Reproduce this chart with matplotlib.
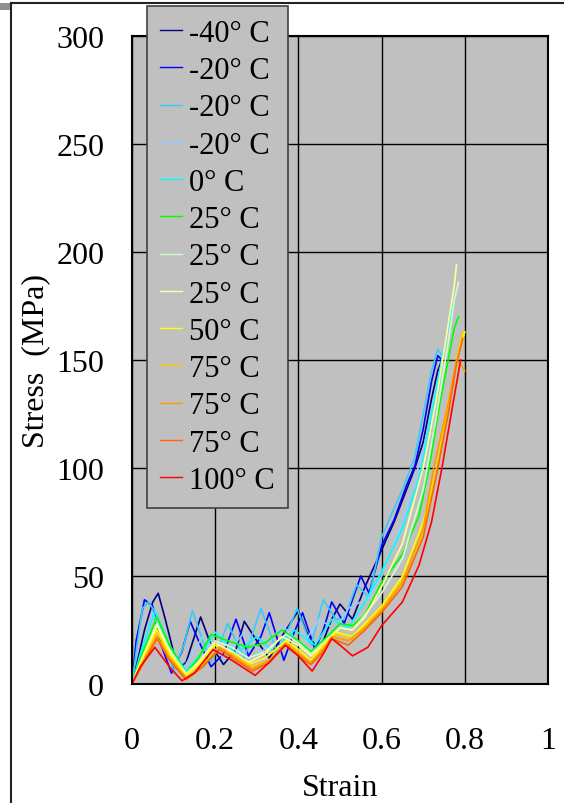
import matplotlib
matplotlib.use("Agg")
import matplotlib.pyplot as plt
from matplotlib.lines import Line2D
from matplotlib.patches import Rectangle

# legend labels, one per test curve
labels = ["-40° C", "-20° C", "-20° C", "-20° C", "0° C", "25° C", "25° C",
          "25° C", "50° C", "75° C", "75° C", "75° C", "100° C"]

# strain / stress pairs (MPa)
strain_m40 = [0, 0.01, 0.03, 0.05, 0.063, 0.08, 0.11, 0.13, 0.165, 0.19, 0.22, 0.25, 0.27, 0.3,
              0.33, 0.36, 0.4, 0.42, 0.45, 0.48, 0.5, 0.53, 0.56, 0.6, 0.63, 0.66, 0.68, 0.7,
              0.72, 0.735, 0.745]
stress_m40 = [0, 8, 25, 38, 42, 30, 7, 10, 31, 18, 9, 16, 29, 20, 12, 22, 34, 24, 15, 30, 37, 30,
              45, 62, 75, 90, 100, 112, 132, 145, 150]

strain_m20a = [0, 0.01, 0.03, 0.05, 0.07, 0.095, 0.12, 0.14, 0.16, 0.19, 0.22, 0.25, 0.28, 0.31,
               0.33, 0.365, 0.39, 0.41, 0.44, 0.46, 0.48, 0.51, 0.55, 0.57, 0.6, 0.63, 0.66,
               0.68, 0.7, 0.72, 0.735, 0.745]
stress_m20a = [0, 20, 39, 36, 18, 5, 15, 29, 20, 8, 14, 30, 13, 22, 33, 11, 24, 33, 16, 25, 38,
               28, 50, 42, 64, 76, 92, 101, 118, 140, 152, 150]

strain_m20b = [0, 0.01, 0.025, 0.04, 0.06, 0.1, 0.125, 0.145, 0.17, 0.19, 0.21, 0.23, 0.27, 0.31,
               0.35, 0.397, 0.43, 0.46, 0.49, 0.51, 0.54, 0.57, 0.6, 0.65, 0.68, 0.7, 0.72,
               0.735, 0.745]
stress_m20b = [0, 15, 35, 38, 32, 6, 18, 34, 20, 10, 18, 28, 12, 35, 14, 35, 18, 39, 30, 30, 46,
               40, 68, 90, 105, 125, 145, 155, 152]

strain_m20c = [0, 0.02, 0.05, 0.08, 0.12, 0.17, 0.22, 0.27, 0.31, 0.36, 0.41, 0.45, 0.49, 0.52,
               0.57, 0.6, 0.65, 0.7, 0.73, 0.755]
stress_m20c = [0, 12, 33, 20, 6, 22, 12, 24, 14, 27, 18, 30, 25, 35, 40, 50, 75, 108, 135, 160]

strain_0 = [0, 0.02, 0.055, 0.09, 0.13, 0.17, 0.2, 0.25, 0.3, 0.34, 0.39, 0.44, 0.48, 0.52, 0.56,
            0.6, 0.65, 0.69, 0.73, 0.755, 0.775]
stress_0 = [0, 14, 34, 18, 6, 15, 24, 14, 22, 15, 25, 18, 30, 26, 38, 52, 72, 95, 135, 160, 178]

strain_25a = [0, 0.02, 0.06, 0.09, 0.13, 0.16, 0.19, 0.23, 0.28, 0.32, 0.36, 0.4, 0.43, 0.47, 0.5,
              0.53, 0.56, 0.6, 0.65, 0.69, 0.714, 0.74, 0.76, 0.775, 0.785]
stress_25a = [0, 12, 31, 18, 5, 12, 23, 20, 17, 19, 25, 20, 15, 22, 28, 27, 32, 47, 60, 78, 100,
              130, 150, 165, 170]

strain_25b = [0, 0.02, 0.06, 0.09, 0.13, 0.16, 0.2, 0.24, 0.28, 0.32, 0.37, 0.4, 0.43, 0.47, 0.5,
              0.53, 0.56, 0.6, 0.65, 0.7, 0.73, 0.76, 0.775, 0.785]
stress_25b = [0, 10, 28, 16, 5, 10, 20, 17, 12, 15, 23, 19, 14, 21, 26, 25, 32, 42, 58, 90, 122,
              158, 178, 186]

strain_25c = [0, 0.02, 0.06, 0.09, 0.13, 0.16, 0.2, 0.24, 0.28, 0.32, 0.36, 0.4, 0.43, 0.47, 0.5,
              0.53, 0.56, 0.6, 0.65, 0.7, 0.73, 0.755, 0.775, 0.78]
stress_25c = [0, 10, 27, 15, 4, 10, 19, 15, 10, 14, 22, 18, 13, 20, 26, 25, 31, 45, 65, 100, 130,
              160, 185, 194]

strain_50 = [0, 0.02, 0.06, 0.09, 0.13, 0.16, 0.2, 0.24, 0.28, 0.32, 0.37, 0.4, 0.43, 0.46, 0.49,
             0.53, 0.56, 0.6, 0.65, 0.7, 0.733, 0.76, 0.78, 0.795, 0.8]
stress_50 = [0, 9, 25, 14, 4, 9, 18, 14, 9, 12, 20, 16, 11, 18, 24, 22, 28, 36, 50, 75, 100, 130,
             148, 160, 163]

strain_75a = [0, 0.02, 0.06, 0.09, 0.13, 0.17, 0.21, 0.25, 0.29, 0.33, 0.37, 0.4, 0.43, 0.46,
              0.49, 0.53, 0.56, 0.6, 0.65, 0.7, 0.73, 0.76, 0.785, 0.795]
stress_75a = [0, 8, 24, 13, 3, 9, 17, 13, 8, 11, 19, 15, 10, 17, 23, 21, 27, 35, 48, 70, 98, 128,
              155, 163]

strain_75b = [0, 0.02, 0.06, 0.09, 0.13, 0.17, 0.21, 0.25, 0.29, 0.33, 0.37, 0.4, 0.43, 0.46,
              0.48, 0.52, 0.56, 0.6, 0.65, 0.7, 0.725, 0.76, 0.78, 0.79, 0.8]
stress_75b = [0, 8, 22, 12, 3, 8, 17, 12, 7, 11, 19, 14, 10, 16, 22, 20, 26, 34, 47, 72, 100, 130,
              150, 148, 145]

strain_75c = [0, 0.02, 0.06, 0.09, 0.13, 0.17, 0.21, 0.25, 0.29, 0.33, 0.37, 0.4, 0.43, 0.46,
              0.48, 0.52, 0.56, 0.6, 0.65, 0.7, 0.73, 0.76, 0.78, 0.795]
stress_75c = [0, 7, 21, 11, 2, 8, 16, 11, 6, 10, 18, 13, 9, 15, 21, 18, 25, 33, 45, 68, 95, 125,
              148, 160]

strain_100 = [0, 0.02, 0.055, 0.09, 0.12, 0.15, 0.195, 0.24, 0.296, 0.33, 0.368, 0.4, 0.433, 0.46,
              0.48, 0.5, 0.53, 0.567, 0.6, 0.65, 0.69, 0.72, 0.745, 0.77, 0.79]
stress_100 = [0, 8, 17, 8, 1.5, 5, 16, 11, 4, 10, 18, 13, 6, 14, 21, 18, 13, 17, 27, 38, 55, 75,
              100, 128, 150]

curves = [(strain_m40, stress_m40), (strain_m20a, stress_m20a), (strain_m20b, stress_m20b),
          (strain_m20c, stress_m20c), (strain_0, stress_0), (strain_25a, stress_25a),
          (strain_25b, stress_25b), (strain_25c, stress_25c), (strain_50, stress_50),
          (strain_75a, stress_75a), (strain_75b, stress_75b), (strain_75c, stress_75c),
          (strain_100, stress_100)]

colors = ["#000080", "#0000ff", "#33ccff", "#99ccff", "#00ffff", "#00ff00", "#ccffcc",
          "#ffff99", "#ffff00", "#ffcc00", "#ff9900", "#ff6600", "#ff0000"]

plt.rcParams["font.family"] = ["Liberation Serif", "DejaVu Serif"]
FS = 23

fig = plt.figure(figsize=(5.64, 8.04), dpi=100)
ax = fig.add_axes([132 / 564, 1 - 685 / 804, 416 / 564, 648 / 804])
ax.set_facecolor("#c0c0c0")

for (x, y), col, lab in zip(curves, colors, labels):
    ax.plot(x, y, color=col, lw=1.2, label=lab)

ax.set_xlim(0, 1)
ax.set_ylim(0, 300)
ax.set_xticks([0, 0.2, 0.4, 0.6, 0.8, 1])
ax.set_xticklabels(["0", "0.2", "0.4", "0.6", "0.8", "1"])
ax.set_yticks(range(0, 301, 50))
ax.grid(color="black", lw=1)
ax.set_axisbelow(True)
for sp in ax.spines.values():
    sp.set_linewidth(1.5)
ax.tick_params(length=0, labelsize=FS)
ax.tick_params(axis="x", pad=30)
ax.tick_params(axis="y", pad=20)
ax.set_xlabel("Strain", fontsize=FS, labelpad=13)
ax.set_ylabel("Stress  (MPa)", fontsize=FS, labelpad=4)

leg = fig.legend(loc="upper left", bbox_to_anchor=(147 / 564, 1 - 7 / 804),
                 fontsize=22, frameon=True, fancybox=False, facecolor="#c0c0c0",
                 edgecolor="#404040", framealpha=1, handlelength=0.72, handletextpad=0.25,
                 labelspacing=0.27, borderpad=0.42, borderaxespad=0)
leg.get_frame().set_linewidth(1.2)
for h in leg.legend_handles:
    h.set_linewidth(1.0)

# outer page frame
fig.add_artist(Line2D([11 / 564, 1], [1 - 3.5 / 804] * 2, transform=fig.transFigure,
                      color="#222222", lw=1.5))
fig.add_artist(Line2D([11 / 564] * 2, [0, 1 - 3.5 / 804], transform=fig.transFigure,
                      color="#222222", lw=1.5))
fig.add_artist(Rectangle((0, 1 - 11 / 804), 10 / 564, 7 / 804, transform=fig.transFigure,
                         facecolor="#909090", edgecolor="none"))

fig.savefig("out.png", dpi=100)
